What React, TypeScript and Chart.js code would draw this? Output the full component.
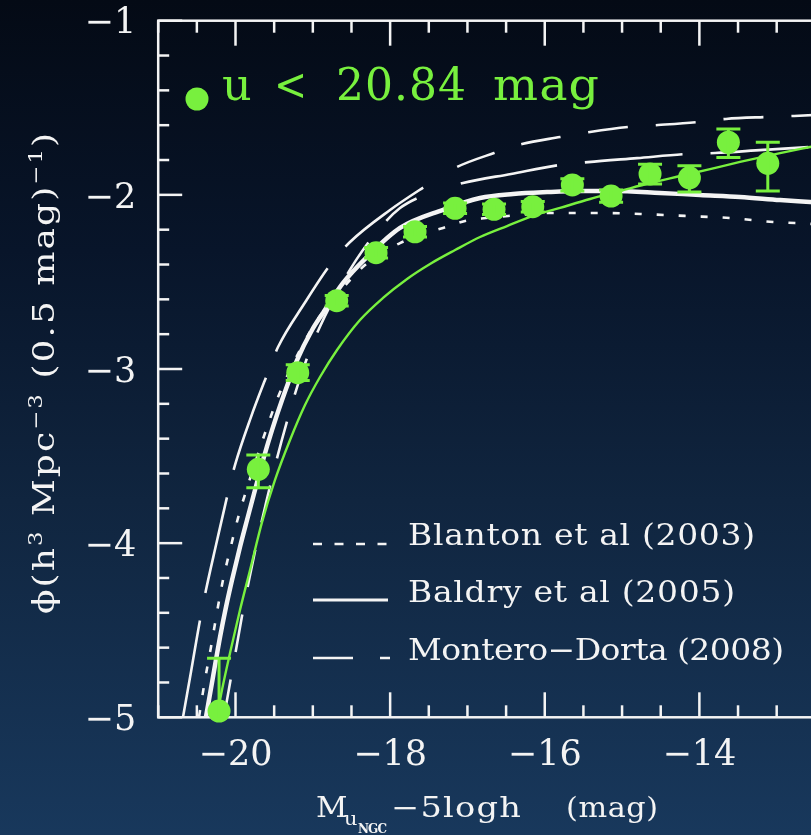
import React, { useEffect, useRef } from 'react';
import { Chart, registerables } from 'chart.js';

Chart.register(...registerables);

// ---------- data ----------
const xMin = -21;
const xMax = -12;
const yMin = -5;
const yMax = -1;

const xTickValues = [-20, -18, -16, -14];
const xTickLabels = ['−20', '−18', '−16', '−14'];
const yTickValues = [-1, -2, -3, -4, -5];
const yTickLabels = ['−1', '−2', '−3', '−4', '−5'];

// measured luminosity function (u < 20.84 mag)
const sampleMag = [-20.213, -19.705, -19.195, -18.691, -18.182, -17.678, -17.16, -16.656, -16.155, -15.643, -15.142, -14.638, -14.129, -13.625, -13.115];
const sampleLogPhi = [-4.964, -3.576, -3.021, -2.608, -2.332, -2.212, -2.077, -2.083, -2.068, -1.943, -2.007, -1.88, -1.902, -1.698, -1.819];
const sampleErrUp = [0.303, 0.082, 0.045, 0.03, 0.03, 0.03, 0.03, 0.03, 0.03, 0.035, 0.035, 0.056, 0.069, 0.076, 0.121];
const sampleErrDown = [0.35, 0.106, 0.045, 0.03, 0.03, 0.03, 0.03, 0.03, 0.03, 0.035, 0.035, 0.057, 0.082, 0.088, 0.159];

// green fit curve
const fitMag = [-20.252, -20.175, -20.071, -19.942, -19.812, -19.657, -19.489, -19.295, -19.101, -18.907, -18.687, -18.39, -18.092, -17.781, -17.484, -17.16, -16.837, -16.488, -16.151, -15.802, -15.414, -15.026, -14.638, -14.25, -13.862, -13.474, -12.956, -12.568, -12.0];
const fitLogPhi = [-5.016, -4.843, -4.631, -4.384, -4.154, -3.879, -3.637, -3.408, -3.207, -3.046, -2.891, -2.719, -2.592, -2.483, -2.397, -2.317, -2.242, -2.179, -2.121, -2.075, -2.024, -1.978, -1.932, -1.892, -1.852, -1.811, -1.76, -1.725, -1.674];

// Baldry et al (2005)
const baldryMag = [-20.382, -20.291, -20.2, -20.123, -20.045, -19.942, -19.851, -19.748, -19.644, -19.528, -19.398, -19.204, -19.01, -18.868, -18.609, -18.299, -17.872, -17.316, -16.837, -16.41, -15.97, -15.543, -15.116, -14.508, -13.991, -13.474, -12.956, -12.568, -12.0];
const baldryLogPhi = [-4.998, -4.768, -4.539, -4.367, -4.212, -4.022, -3.867, -3.695, -3.523, -3.351, -3.178, -2.949, -2.776, -2.678, -2.506, -2.357, -2.19, -2.086, -2.018, -1.995, -1.984, -1.978, -1.978, -1.989, -2.001, -2.012, -2.03, -2.041, -2.058];

// Blanton et al (2003)
const blantonMag = [-20.472, -20.395, -20.317, -20.239, -20.162, -20.071, -19.968, -19.851, -19.735, -19.605, -19.45, -19.295, -19.166, -19.023, -18.881, -18.7, -18.519, -18.325, -18.105, -17.872, -17.613, -17.316, -17.031, -16.759, -16.475, -16.19, -15.892, -15.284, -14.767, -14.185, -13.603, -13.046, -12.762, -12.0];
const blantonLogPhi = [-4.998, -4.786, -4.596, -4.395, -4.212, -4.039, -3.856, -3.683, -3.523, -3.351, -3.161, -3.006, -2.891, -2.776, -2.678, -2.581, -2.489, -2.403, -2.334, -2.277, -2.231, -2.19, -2.15, -2.133, -2.121, -2.11, -2.104, -2.104, -2.11, -2.121, -2.133, -2.156, -2.162, -2.18];

// Montero-Dorta (2008), two curves
const monteroAMag = [-20.679, -20.576, -20.459, -20.382, -20.252, -20.11, -20.007, -19.8, -19.593, -19.45, -19.114, -18.778, -18.519, -18.001, -17.445, -17.135, -16.656, -16.294, -15.802, -15.414, -14.91, -14.534, -14.03, -13.655, -13.137, -12.775, -12.0];
const monteroALogPhi = [-4.998, -4.74, -4.441, -4.269, -4.011, -3.735, -3.552, -3.276, -3.034, -2.874, -2.627, -2.403, -2.271, -2.087, -1.921, -1.84, -1.76, -1.708, -1.668, -1.639, -1.61, -1.599, -1.582, -1.564, -1.553, -1.547, -1.53];
const monteroBMag = [-20.149, -20.071, -19.994, -19.916, -19.825, -19.722, -19.605, -19.476, -19.321, -19.166, -18.972, -18.739, -18.441, -18.131, -17.872, -17.613, -17.432, -17.057, -16.436, -15.815, -15.44, -14.806, -14.172, -13.797, -13.176, -12.555, -12.0];
const monteroBLogPhi = [-4.998, -4.803, -4.614, -4.418, -4.212, -3.993, -3.769, -3.534, -3.281, -3.052, -2.822, -2.604, -2.375, -2.19, -2.076, -2.012, -1.984, -1.932, -1.88, -1.829, -1.812, -1.789, -1.766, -1.76, -1.742, -1.725, -1.712];
// index where the dash rhythm of each Montero-Dorta curve changes
const monteroASplit = 14;
const monteroBSplit = 16;

const sampleLabel = 'u < 20.84 mag';
const legendLabels = ['Blanton et al (2003)', 'Baldry et al (2005)', 'Montero−Dorta (2008)'];

// ---------- style ----------
const GREEN = 'rgb(120,240,62)';
const WHITE = '#f4f4f4';
const SERIF = '"DejaVu Serif", "Liberation Serif", serif';

const toXY = (xs: number[], ys: number[]) => xs.map((x, i) => ({ x, y: ys[i] }));

type Seg = { t: string; size: number; dy?: number; bold?: boolean };

function drawSegs(
  ctx: CanvasRenderingContext2D,
  segs: Seg[],
  x: number,
  y: number,
  target?: number,
  hScale = 1
) {
  const chars: { ch: string; font: string; dy: number; w: number }[] = [];
  for (const s of segs) {
    const font = `${s.bold ? 'bold ' : ''}${s.size}px ${SERIF}`;
    ctx.font = font;
    for (const ch of Array.from(s.t)) {
      chars.push({ ch, font, dy: s.dy || 0, w: ctx.measureText(ch).width * hScale });
    }
  }
  const natural = chars.reduce((a, c) => a + c.w, 0);
  const sp = target && chars.length > 1 ? (target - natural) / (chars.length - 1) : 0;
  let cx = x;
  ctx.textAlign = 'left';
  ctx.textBaseline = 'alphabetic';
  for (const c of chars) {
    ctx.font = c.font;
    ctx.save();
    ctx.translate(cx, y + c.dy);
    ctx.scale(hScale, 1);
    ctx.fillText(c.ch, 0, 0);
    ctx.restore();
    cx += c.w + sp;
  }
}

const axesPlugin = {
  id: 'axesPlugin',
  beforeDatasetsDraw(chart: any) {
    const { ctx, chartArea: a, scales } = chart;
    const xs = scales.x;
    const ys = scales.y;
    ctx.save();
    ctx.strokeStyle = WHITE;
    ctx.lineWidth = 2.5;
    ctx.lineCap = 'butt';
    ctx.strokeRect(a.left, a.top, a.right - a.left, a.bottom - a.top);
    const seg = (x1: number, y1: number, x2: number, y2: number) => {
      ctx.beginPath();
      ctx.moveTo(x1, y1);
      ctx.lineTo(x2, y2);
      ctx.stroke();
    };
    const nx = Math.round((xMax - xMin) / 0.5);
    for (let k = 0; k <= nx; k++) {
      const v = xMin + k * 0.5;
      const px = xs.getPixelForValue(v);
      const major = Math.abs(v % 2) < 1e-9;
      const len = major ? 25 : 12;
      seg(px, a.bottom, px, a.bottom - len);
      seg(px, a.top, px, a.top + len);
    }
    const ny = Math.round((yMax - yMin) / 0.2);
    for (let k = 0; k <= ny; k++) {
      const v = yMin + k * 0.2;
      const py = ys.getPixelForValue(v);
      const major = Math.abs(v - Math.round(v)) < 1e-9;
      const len = major ? 24 : 11;
      seg(a.left, py, a.left + len, py);
      seg(a.right, py, a.right - len, py);
    }
    ctx.fillStyle = WHITE;
    ctx.font = `35px ${SERIF}`;
    ctx.textBaseline = 'alphabetic';
    ctx.textAlign = 'center';
    xTickValues.forEach((v, i) => {
      ctx.fillText(xTickLabels[i], xs.getPixelForValue(v), a.bottom + 48);
    });
    ctx.textAlign = 'right';
    yTickValues.forEach((v, i) => {
      ctx.fillText(yTickLabels[i], a.left - 22, ys.getPixelForValue(v) + 12.7);
    });

    // x title
    drawSegs(ctx, [{ t: 'M', size: 28 }], 316, 817, undefined, 1.1);
    drawSegs(ctx, [{ t: 'u', size: 19 }], 344, 825, undefined, 1.1);
    drawSegs(ctx, [{ t: 'NGC', size: 12, bold: true }], 358, 833, 29);
    drawSegs(ctx, [{ t: '−5logh', size: 28 }], 391, 817, 130, 1.2);
    drawSegs(ctx, [{ t: '(mag)', size: 28 }], 566, 817, 92, 1.08);

    // y title (rotated)
    ctx.save();
    ctx.translate(54, 614);
    ctx.rotate(-Math.PI / 2);
    drawSegs(
      ctx,
      [
        { t: 'ϕ(h', size: 30 },
        { t: '3', size: 19, dy: -12 },
        { t: ' Mpc', size: 30 },
        { t: '−3', size: 19, dy: -12 },
        { t: ' (0.5 mag)', size: 30 },
        { t: '−1', size: 19, dy: -12 },
        { t: ')', size: 30 },
      ],
      0,
      0,
      481,
      1.2
    );
    ctx.restore();
    ctx.restore();
  },
};

const errorBarPlugin = {
  id: 'errorBarPlugin',
  afterDatasetsDraw(chart: any) {
    const { ctx, chartArea: a, scales } = chart;
    ctx.save();
    ctx.beginPath();
    ctx.rect(a.left, a.top, a.right - a.left, a.bottom - a.top);
    ctx.clip();
    ctx.strokeStyle = GREEN;
    ctx.lineWidth = 3;
    sampleMag.forEach((m, i) => {
      const px = scales.x.getPixelForValue(m);
      const pt = scales.y.getPixelForValue(sampleLogPhi[i] + sampleErrUp[i]);
      const pb = scales.y.getPixelForValue(sampleLogPhi[i] - sampleErrDown[i]);
      ctx.beginPath();
      ctx.moveTo(px, pt);
      ctx.lineTo(px, pb);
      ctx.moveTo(px - 12, pt);
      ctx.lineTo(px + 12, pt);
      ctx.moveTo(px - 12, pb);
      ctx.lineTo(px + 12, pb);
      ctx.stroke();
    });
    ctx.restore();
  },
};

const legendPlugin = {
  id: 'legendPlugin',
  afterDraw(chart: any) {
    const { ctx } = chart;
    ctx.save();
    ctx.fillStyle = GREEN;
    ctx.beginPath();
    ctx.arc(197, 99, 11.5, 0, Math.PI * 2);
    ctx.fill();
    drawSegs(ctx, [{ t: 'u', size: 44 }], 222, 100, undefined, 1.05);
    drawSegs(ctx, [{ t: '<', size: 44 }], 274, 100, undefined, 0.9);
    drawSegs(ctx, [{ t: '20.84', size: 44 }], 336, 100, 130, 1.0);
    drawSegs(ctx, [{ t: 'mag', size: 44 }], 493, 100, 106, 1.08);

    ctx.strokeStyle = WHITE;
    ctx.lineWidth = 2.7;
    ctx.setLineDash([9, 12.5]);
    ctx.beginPath();
    ctx.moveTo(313, 544);
    ctx.lineTo(388, 544);
    ctx.stroke();
    ctx.setLineDash([]);
    ctx.lineWidth = 3;
    ctx.beginPath();
    ctx.moveTo(313, 600);
    ctx.lineTo(388, 600);
    ctx.stroke();
    ctx.lineWidth = 2.7;
    ctx.beginPath();
    ctx.moveTo(313, 658);
    ctx.lineTo(353, 658);
    ctx.moveTo(380, 658);
    ctx.lineTo(390, 658);
    ctx.stroke();

    ctx.fillStyle = WHITE;
    drawSegs(ctx, [{ t: legendLabels[0], size: 30 }], 408, 545, 347, 1.1);
    drawSegs(ctx, [{ t: legendLabels[1], size: 30 }], 408, 602, 327, 1.1);
    drawSegs(ctx, [{ t: legendLabels[2], size: 30 }], 408, 660, 376, 1.1);
    ctx.restore();
  },
};

const whiteLine = (
  label: string,
  data: { x: number; y: number }[],
  width: number,
  dash: number[],
  order: number,
  dashOffset = 0
) =>
  ({
    label,
    data,
    showLine: true,
    borderColor: WHITE,
    borderWidth: width,
    borderDash: dash,
    borderDashOffset: dashOffset,
    pointRadius: 0,
    cubicInterpolationMode: 'monotone',
    order,
  } as any);

export default function App() {
  const ref = useRef<HTMLCanvasElement | null>(null);

  useEffect(() => {
    if (!ref.current) return;
    const mA = toXY(monteroAMag, monteroALogPhi);
    const mB = toXY(monteroBMag, monteroBLogPhi);
    const chart = new Chart(ref.current, {
      type: 'scatter',
      data: {
        datasets: [
          {
            label: sampleLabel,
            data: toXY(sampleMag, sampleLogPhi),
            showLine: false,
            pointRadius: 11.5,
            pointBackgroundColor: GREEN,
            pointBorderWidth: 0,
            backgroundColor: GREEN,
            borderWidth: 0,
            clip: false,
            order: 0,
          } as any,
          {
            label: 'fit',
            data: toXY(fitMag, fitLogPhi),
            showLine: true,
            borderColor: GREEN,
            borderWidth: 2.4,
            pointRadius: 0,
            cubicInterpolationMode: 'monotone',
            order: 1,
          } as any,
          whiteLine(legendLabels[1], toXY(baldryMag, baldryLogPhi), 4.5, [], 2),
          whiteLine(legendLabels[0], toXY(blantonMag, blantonLogPhi), 2.6, [7, 15], 3),
          whiteLine(legendLabels[2], mA.slice(0, monteroASplit + 1), 2.6, [98, 28], 4),
          whiteLine(legendLabels[2], mA.slice(monteroASplit), 2.6, [40, 28], 4, 40),
          whiteLine(legendLabels[2], mB.slice(0, monteroBSplit + 1), 2.6, [38, 28], 4),
          whiteLine(legendLabels[2], mB.slice(monteroBSplit), 2.6, [98, 28], 4, 98),
        ],
      },
      options: {
        animation: false,
        responsive: false,
        devicePixelRatio: 1,
        events: [],
        layout: { padding: { left: 158.2, right: 900 - 854, top: 20.7, bottom: 835 - 717.3 } },
        scales: {
          x: { type: 'linear', min: xMin, max: xMax, display: false },
          y: { type: 'linear', min: yMin, max: yMax, display: false },
        },
        plugins: {
          legend: { display: false },
          tooltip: { enabled: false },
        },
      },
      plugins: [axesPlugin, errorBarPlugin, legendPlugin],
    });
    return () => chart.destroy();
  }, []);

  return (
    <div
      style={{
        position: 'fixed',
        left: 0,
        top: 0,
        width: 811,
        height: 835,
        overflow: 'hidden',
        background: 'linear-gradient(180deg, #040a15 0%, #08152a 30%, #10253f 60%, #18385c 100%)',
      }}
    >
      <canvas
        ref={ref}
        width={900}
        height={835}
        style={{ position: 'absolute', left: 0, top: 0, width: 900, height: 835 }}
      />
    </div>
  );
}
